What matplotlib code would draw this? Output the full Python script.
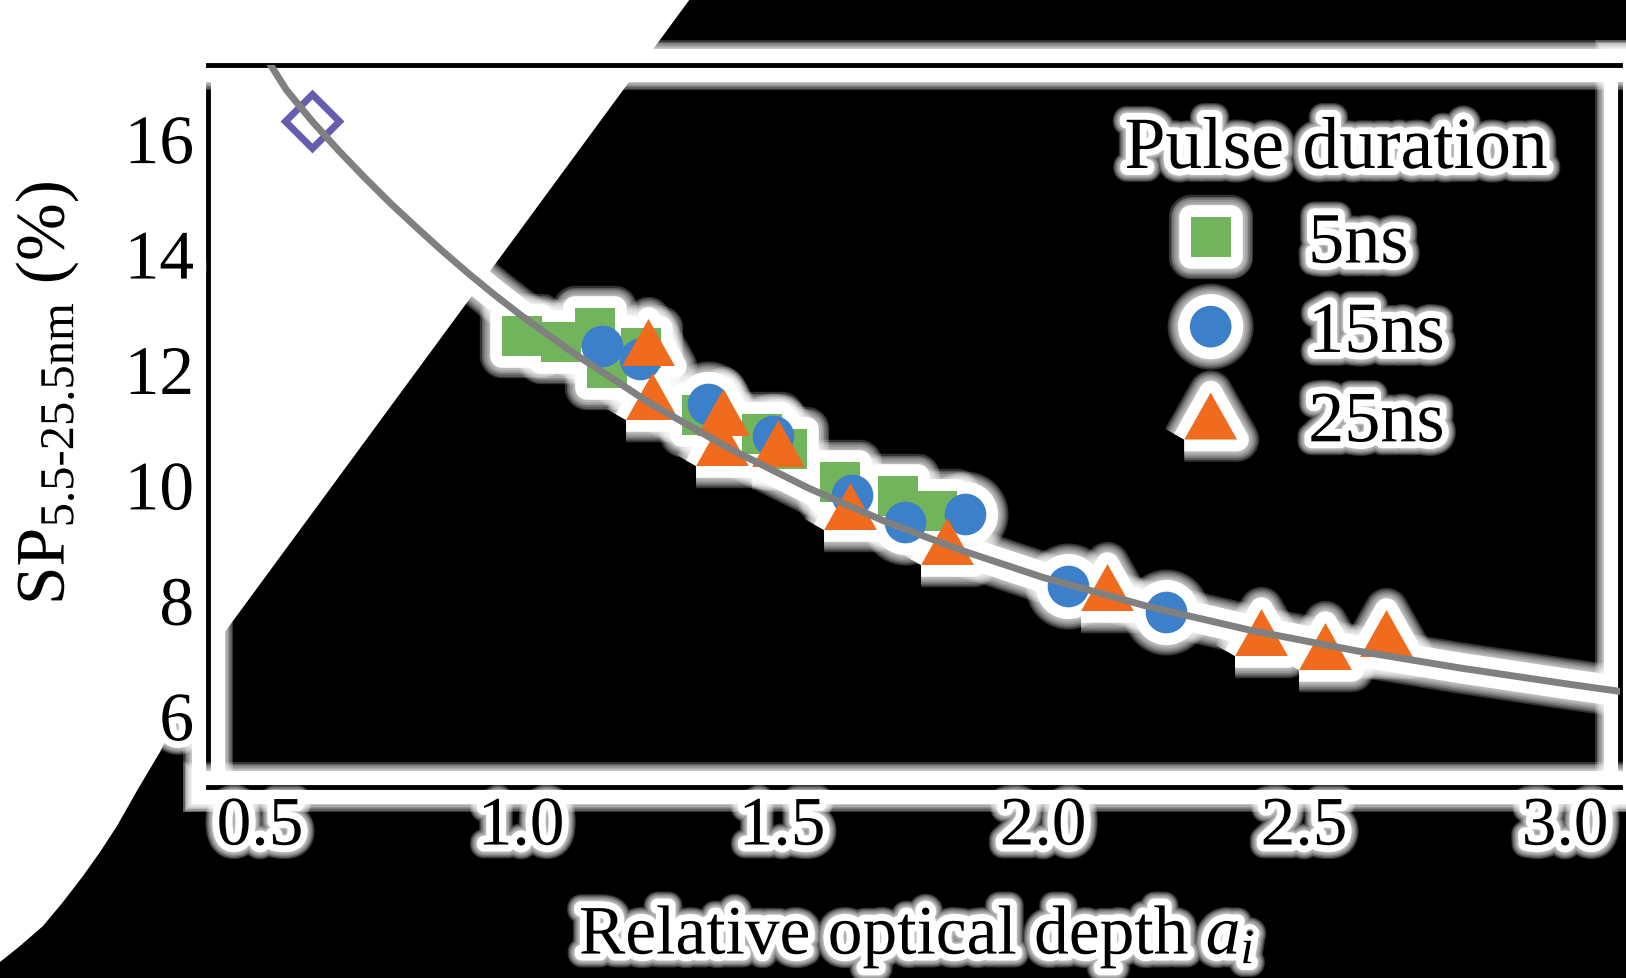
import matplotlib
matplotlib.use('Agg')
import matplotlib.pyplot as plt
import matplotlib.patheffects as pe
from matplotlib.markers import MarkerStyle
from matplotlib.patches import Polygon
from matplotlib.lines import Line2D

plt.rcParams['font.family'] = ['Liberation Serif', 'DejaVu Serif']
plt.rcParams['mathtext.fontset'] = 'custom'
plt.rcParams['mathtext.rm'] = 'Liberation Serif'
plt.rcParams['mathtext.it'] = 'Liberation Serif:italic'

# 5 ns pulses
x5 = [1.002, 1.076, 1.141, 1.164, 1.229, 1.346, 1.461, 1.509, 1.610, 1.721, 1.796]
y5 = [12.59, 12.48, 12.72, 12.03, 12.38, 11.22, 10.89, 10.63, 10.06, 9.81, 9.55]
# 15 ns pulses
x15 = [1.155, 1.227, 1.358, 1.482, 1.633, 1.735, 1.850, 2.047, 2.236]
y15 = [12.41, 12.19, 11.41, 10.85, 9.83, 9.36, 9.50, 8.25, 7.80]
# 25 ns pulses
x25 = [1.243, 1.250, 1.386, 1.384, 1.492, 1.629, 1.815, 2.123, 2.418, 2.539, 2.657]
y25 = [12.48, 11.55, 11.27, 10.75, 10.73, 9.64, 9.03, 8.24, 7.46, 7.21, 7.44]
# open diamond
x_ref = [0.600]
y_ref = [16.31]
# grey trend curve
fit_x = [0.52, 0.55, 0.60, 0.65, 0.70, 0.75, 0.80, 0.85, 0.90, 0.95, 1.00, 1.10,
         1.25, 1.40, 1.55, 1.70, 1.85, 2.00, 2.20, 2.40, 2.60, 2.80, 3.00, 3.11]
fit_y = [17.28, 16.85, 16.30, 15.80, 15.33, 14.88, 14.46, 14.05, 13.66, 13.29,
         12.94, 12.29, 11.40, 10.63, 9.95, 9.36, 8.85, 8.40, 7.90, 7.48, 7.13,
         6.83, 6.56, 6.42]

labels = ['5ns', '15ns', '25ns']
xticks = [0.5, 1.0, 1.5, 2.0, 2.5, 3.0]
yticks = [6, 8, 10, 12, 14, 16]

green = '#72b45c'
blue = '#3b80c8'
orange = '#f06b1e'
purple = '#665cb0'

W, H = 1626, 979
fig = plt.figure(figsize=(W / 100, H / 100), dpi=100)
fig.patch.set_facecolor('white')

# black backdrop on the right (pixel coords, top-left origin)
shape = [(690, 0), (1626, 0), (1626, 979), (0, 979), (0, 963), (20, 947), (43, 927),
         (63, 903), (83, 877), (100, 853), (117, 827), (138, 790), (160, 753),
         (183, 707), (205, 660)]
fig.add_artist(Polygon([(px / W, 1 - py / H) for px, py in shape], closed=True,
                       transform=fig.transFigure, facecolor='black',
                       edgecolor='none', zorder=-1))

ax = fig.add_axes([208 / W, 1 - 788 / H, (1620 - 208) / W, (788 - 66) / H])
ax.set_facecolor('none')
ax.set_xlim(0.40, 3.105)
ax.set_ylim(4.77, 17.28)


def halo(solid, outer, n=6):
    # soft white glow: a solid core plus a few faint wider rings
    layers = [(solid + (outer - solid) * j / n, 0.2) for j in range(n, 0, -1)]
    return layers + [(solid, 1.0)]


def glow(solid=10, outer=20):
    effects = [pe.Stroke(linewidth=w, foreground='white', alpha=a)
               for w, a in halo(solid, outer)]
    return effects + [pe.Normal()]


tri = [(-1, -0.89), (1, -0.89), (0, 0.89), (-1, -0.89)]
series = [(x5, y5, 's', 29, green),
          (x15, y15, 'o', 30, blue),
          (x25, y25, tri, 38, orange)]

# white glow behind every mark
for w, a in halo(17, 32):
    for xs, ys, m, ms, c in series:
        ax.plot(xs, ys, ls='none', marker=MarkerStyle(m, joinstyle='round'), ms=ms,
                mfc='white', mec='white', mew=w, alpha=a, zorder=0.3)
    ax.plot(x_ref, y_ref, ls='none', marker=MarkerStyle('D', joinstyle='round'), ms=28,
            mfc='none', mec='white', mew=5 + w, alpha=a, zorder=0.3)
    ax.plot(fit_x, fit_y, color='white', lw=5 + w, alpha=a,
            solid_capstyle='round', solid_joinstyle='round', zorder=0.3)

# marks
for i, (xs, ys, m, ms, c) in enumerate(series):
    ax.plot(xs, ys, ls='none', marker=m, ms=ms, mfc=c, mew=0, zorder=2 + i * 0.1)
ax.plot(x_ref, y_ref, ls='none', marker='D', ms=28, mfc='none', mec=purple,
        mew=5, zorder=2.5)
ax.plot(fit_x, fit_y, color='#808080', lw=5, solid_joinstyle='round', zorder=4)

# frame
for s in ax.spines.values():
    s.set_linewidth(3.5)
    s.set_color('black')
    s.set_zorder(0.5)
    s.set_path_effects(glow(24, 36))

ax.set_xticks(xticks)
ax.set_xticklabels(['%.1f' % v for v in xticks])
ax.set_yticks(yticks)
ax.set_yticklabels([str(v) for v in yticks])
ax.tick_params(axis='both', length=0, labelsize=50)
ax.tick_params(axis='x', pad=6.5)
ax.tick_params(axis='y', pad=10)
for t in ax.get_xticklabels() + ax.get_yticklabels():
    t.set_path_effects(glow())

fig.text(47 / W, 1 - 394 / H, r'SP$_{\text{5.5-25.5nm}}$ (%)', rotation=90,
         ha='center', va='center', fontsize=50, path_effects=glow())
fig.text(917 / W, 1 - 955 / H, r'Relative optical depth $a_i$', ha='center',
         va='baseline', fontsize=50, path_effects=glow())

# legend
handles = [Line2D([], [], ls='none', marker=MarkerStyle(m, joinstyle='round'), ms=ms,
                  mfc=c, mew=0, path_effects=glow(17, 32))
           for _, _, m, ms, c in series]
leg = ax.legend(handles, labels, loc='upper left', bbox_to_anchor=(1176 / W, 1 - 213 / H),
                bbox_transform=fig.transFigure, frameon=False, fontsize=52,
                handlelength=0.96, handletextpad=0.87, labelspacing=0.33,
                borderpad=0, borderaxespad=0)
for t in leg.get_texts():
    t.set_path_effects(glow())
fig.text(1336 / W, 1 - 169 / H, 'Pulse duration', ha='center', va='baseline',
         fontsize=53, path_effects=glow())

fig.savefig('out.png', dpi=100)
